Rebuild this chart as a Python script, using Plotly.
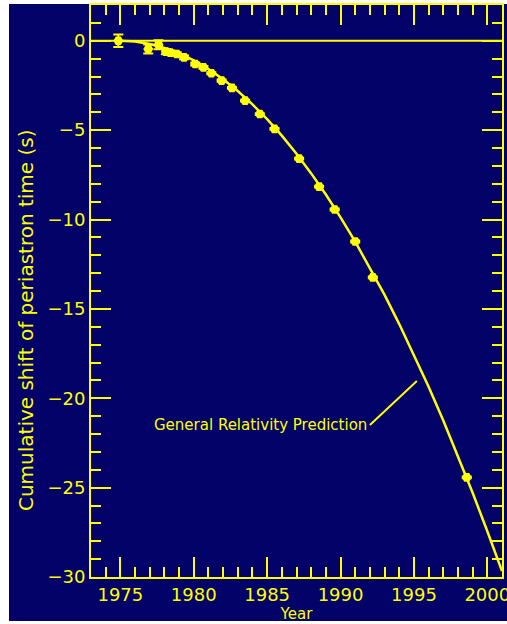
import plotly.graph_objects as go

# Observed periastron shift data (year, seconds, error)
obs_year = [1974.86, 1976.9, 1977.6, 1978.1, 1978.4, 1978.84, 1979.34, 1980.1, 1980.66,
            1981.2, 1981.9, 1982.6, 1983.5, 1984.5, 1985.5, 1987.18, 1988.54, 1989.6,
            1991.0, 1992.2, 1998.6]
obs_shift = [0.0, -0.46, -0.22, -0.61, -0.66, -0.74, -0.93, -1.30, -1.49,
             -1.82, -2.23, -2.64, -3.35, -4.10, -4.93, -6.59, -8.16, -9.44,
             -11.23, -13.24, -24.43]
obs_err = [0.35, 0.25, 0.25, 0.15, 0.12, 0.1, 0.1, 0.08, 0.08,
           0.06, 0.06, 0.05, 0.05, 0.05, 0.05, 0.05, 0.05, 0.05,
           0.05, 0.05, 0.05]

# General relativity prediction curve
gr_year = [1975, 1976, 1977, 1978, 1979, 1980, 1981, 1982, 1983, 1984, 1985, 1986, 1987,
           1988, 1989, 1990, 1991, 1992, 1993, 1994, 1995, 1996, 1997, 1998, 1999, 2000, 2001]
gr_shift = [0.0, -0.04, -0.18, -0.40, -0.70, -1.10, -1.58, -2.15, -2.81, -3.56, -4.39, -5.31,
            -6.32, -7.42, -8.60, -9.88, -11.24, -12.69, -14.22, -15.85, -17.56, -19.36,
            -21.25, -23.22, -25.29, -27.44, -29.67]

x_ticks = [1975, 1980, 1985, 1990, 1995, 2000]
y_ticks = [0, -5, -10, -15, -20, -25, -30]
y_tick_labels = ["0", "\u22125", "\u221210", "\u221215", "\u221220", "\u221225", "\u221230"]

NAVY = "#020268"
YEL = "#ffff00"
FONT = "DejaVu Sans"

fig = go.Figure()
fig.add_trace(go.Scatter(x=gr_year, y=gr_shift, mode="lines",
                         line=dict(color=YEL, width=2.5), showlegend=False, hoverinfo="skip"))
fig.add_trace(go.Scatter(x=obs_year, y=obs_shift, mode="markers",
                         marker=dict(color=YEL, size=10, symbol="hexagon2"),
                         error_y=dict(type="data", array=obs_err, color=YEL, thickness=2, width=5),
                         showlegend=False))

fig.add_shape(type="line", xref="paper", yref="y", x0=0, x1=1, y0=0, y1=0,
              line=dict(color=YEL, width=2))
# navy frame covering the figure (white strip at left/top/bottom)
fig.add_shape(type="rect", xref="paper", yref="paper", x0=-0.1995, x1=1.03,
              y0=-0.0769, y1=1.0017, fillcolor=NAVY, line=dict(width=0), layer="below")

fig.add_annotation(x=1991.95, y=-21.5, text="General Relativity Prediction",
                   showarrow=False, xanchor="right", yanchor="middle",
                   font=dict(color=YEL, size=15, family=FONT))
fig.add_shape(type="line", xref="x", yref="y", x0=1992.0, y0=-21.5, x1=1995.2, y1=-19.03,
              line=dict(color=YEL, width=2))

# y-axis title (placed as rotated text like the reference)
fig.add_annotation(xref="paper", yref="paper", x=-0.158, y=0.4493,
                   text="Cumulative shift of periastron time (s)", textangle=-90,
                   showarrow=False, xanchor="center", yanchor="middle",
                   font=dict(color=YEL, size=20, family=FONT))

axis_common = dict(showgrid=False, zeroline=False, showline=True, linecolor=YEL, linewidth=2,
                   mirror="allticks", ticks="inside", ticklen=20, tickwidth=2, tickcolor=YEL,
                   tickfont=dict(color=YEL, size=18, family=FONT), ticklabeloverflow="allow",
                   automargin=False,
                   minor=dict(ticks="inside", ticklen=10, tickwidth=2, tickcolor=YEL, dtick=1,
                              showgrid=False))

fig.update_xaxes(range=[1973, 2001], tickvals=x_ticks, ticktext=[str(v) for v in x_ticks],
                 title=dict(text="Year", font=dict(color=YEL, size=15, family=FONT), standoff=0),
                 **axis_common)
fig.update_yaxes(range=[-30, 2], tickvals=y_ticks, ticktext=y_tick_labels, **axis_common)

fig.update_layout(width=507, height=624, paper_bgcolor="white", plot_bgcolor=NAVY,
                  margin=dict(l=91, r=5, t=5, b=47, autoexpand=False), showlegend=False)

fig.write_html("out.html", config={"displayModeBar": False},
               post_script="document.body.style.margin='0';document.body.style.overflow='hidden';")
